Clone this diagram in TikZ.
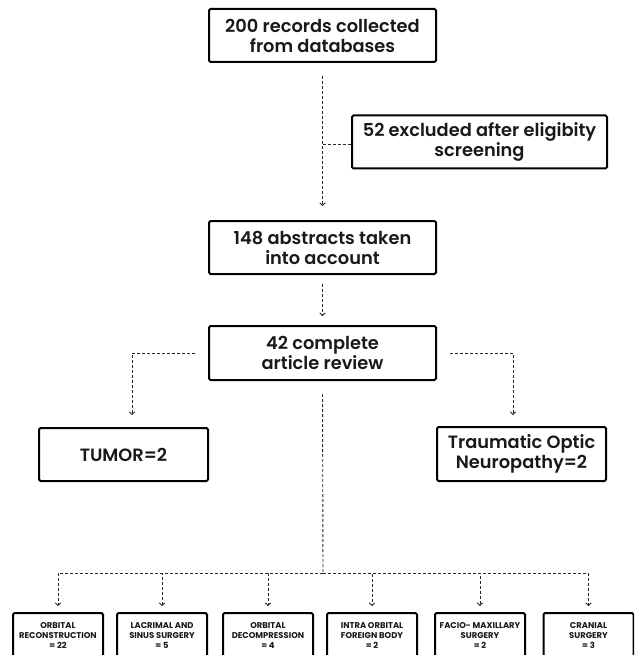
\documentclass[tikz,border=0pt]{standalone}
\usepackage{fontspec}
\setmainfont{Poppins}[UprightFont=* Medium, BoldFont=* SemiBold]
\newfontfamily\popheavy{Poppins}[UprightFont=* Bold]
\usetikzlibrary{arrows.meta,positioning}
\tikzset{
  box/.style={draw=black, line width=2pt, rounded corners=1.5pt, fill=white, align=center,
    inner sep=0pt, font=\bfseries\fontsize{17.8}{20}\selectfont, text=black!90},
  smallbox/.style={draw=black, line width=2pt, rounded corners=1.5pt, fill=white, align=center,
    inner sep=0pt, minimum width=90pt, minimum height=46pt,
    font=\popheavy\fontsize{8.4}{10}\selectfont, text=black!90},
  flow/.style={draw=black!85, line width=0.9pt, dash pattern=on 3pt off 2pt},
  tip/.style={-{Straight Barb[length=2.5pt,width=5.5pt,line width=0.9pt]}}
}
\begin{document}
\begin{tikzpicture}[x=1pt,y=-1pt]
\useasboundingbox (0,0) rectangle (634,655);
\clip (0,0) rectangle (634,655);
\node[box, minimum width=227pt, minimum height=53pt] (b1) at (322.5,35.5) {200 records collected\\from databases};
\node[box, minimum width=255pt, minimum height=53pt] (b2) at (479.5,142) {52 excluded after eligibity\\screening};
\node[box, minimum width=227pt, minimum height=53pt] (b3) at (322.5,247.5) {148 abstracts taken\\into account};
\node[box, minimum width=227pt, minimum height=54pt] (b4) at (322.5,353) {42 complete\\article review};
\node[box, minimum width=169pt, minimum height=53pt] (tumor) at (123.5,454.5) {TUMOR=2};
\node[box, minimum width=169pt, minimum height=54pt] (ton) at (521.5,454) {Traumatic Optic\\Neuropathy=2};

\node[smallbox] (c1) at (58,636) {ORBITAL\\RECONSTRUCTION\\= 22};
\node[smallbox] (c2) at (162,636) {LACRIMAL AND\\SINUS SURGERY\\= 5};
\node[smallbox] (c3) at (268,636) {ORBITAL\\DECOMPRESSION\\= 4};
\node[smallbox] (c4) at (372,636) {INTRA ORBITAL\\FOREIGN BODY\\= 2};
\node[smallbox] (c5) at (480,636) {FACIO- MAXILLARY\\SURGERY\\= 2};
\node[smallbox] (c6) at (588.5,636) {CRANIAL\\SURGERY\\= 3};

\coordinate (split) at (323,144);
\coordinate (hub) at (323,573);

\draw[flow, tip, shorten <=13pt, shorten >=14pt] (b1.south) -- (b3.north);
\draw[flow] (split) -- (split -| b2.west);
\draw[flow, tip, shorten <=9pt, shorten >=9pt] (b3.south) -- (b4.north);
\draw[flow, tip, shorten >=12pt] ([xshift=-13pt]b4.west) -| ([xshift=8.5pt]tumor.north);
\draw[flow, tip, shorten >=11pt] ([xshift=13pt]b4.east) -| ([xshift=-8.5pt]ton.north);
\draw[flow, shorten <=13pt] (b4.south) -- (hub);
\foreach \c in {c1,c2,c3,c4,c5,c6}{
  \draw[flow, tip, shorten >=6pt] (hub) -| (\c.north);
}
\end{tikzpicture}
\end{document}
